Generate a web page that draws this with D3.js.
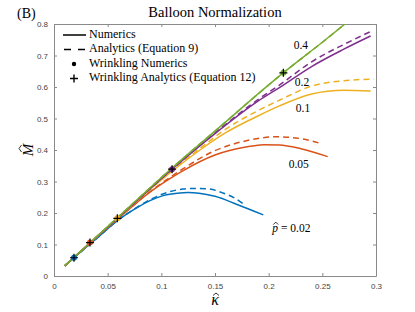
<!DOCTYPE html>
<html>
<head>
<meta charset="utf-8">
<script src="https://cdn.jsdelivr.net/npm/d3@7"></script>
<style>
  body { margin: 0; background: #fff; }
  svg text { font-family: "Liberation Serif", "DejaVu Serif", serif; }
  .tick text { font-family: "Liberation Sans", Arial, sans-serif; font-size: 8px; fill: #444; }
</style>
</head>
<body>
<svg id="chart"></svg>
<script>
// curves per p value, kappa on x and M on y
const pLabels = [' = 0.02', '0.05', '0.1', '0.2', '0.4'];
const colors = ['#0072BD', '#D95319', '#EDB120', '#7E2F8E', '#77AC30'];

const numK = [
  [0.01, 0.02, 0.04, 0.06, 0.075, 0.09, 0.1025, 0.115, 0.125, 0.135, 0.15, 0.17, 0.195],
  [0.01, 0.034, 0.06, 0.09, 0.105, 0.12, 0.15, 0.18, 0.195, 0.21, 0.23, 0.255],
  [0.01, 0.059, 0.1, 0.136, 0.16, 0.19, 0.21, 0.24, 0.27, 0.295],
  [0.01, 0.06, 0.11, 0.15, 0.19, 0.21, 0.24, 0.27, 0.295],
  [0.01, 0.06, 0.11, 0.15, 0.2144, 0.25, 0.274]
];
const numM = [
  [0.032, 0.062, 0.120, 0.178, 0.212, 0.240, 0.256, 0.263, 0.265, 0.263, 0.253, 0.228, 0.194],
  [0.032, 0.106, 0.183, 0.268, 0.303, 0.334, 0.384, 0.410, 0.417, 0.416, 0.404, 0.379],
  [0.032, 0.183, 0.305, 0.400, 0.455, 0.508, 0.540, 0.578, 0.590, 0.587],
  [0.032, 0.186, 0.339, 0.452, 0.555, 0.598, 0.665, 0.720, 0.762],
  [0.032, 0.188, 0.343, 0.460, 0.647, 0.742, 0.808]
];

const anaK = [
  [0.01, 0.02, 0.04, 0.06, 0.075, 0.09, 0.108, 0.12, 0.13, 0.145, 0.157, 0.168, 0.176],
  [0.01, 0.034, 0.06, 0.09, 0.105, 0.12, 0.15, 0.18, 0.195, 0.2075, 0.23, 0.25],
  [0.01, 0.059, 0.1, 0.136, 0.16, 0.19, 0.21, 0.24, 0.27, 0.298],
  [0.01, 0.06, 0.11, 0.15, 0.19, 0.21, 0.24, 0.27, 0.295],
  [0.01, 0.06, 0.11, 0.15, 0.2144, 0.25, 0.274]
];
const anaM = [
  [0.032, 0.062, 0.120, 0.178, 0.213, 0.243, 0.268, 0.276, 0.278, 0.276, 0.264, 0.248, 0.230],
  [0.032, 0.106, 0.183, 0.269, 0.306, 0.340, 0.398, 0.430, 0.439, 0.442, 0.436, 0.419],
  [0.032, 0.183, 0.306, 0.405, 0.466, 0.525, 0.558, 0.603, 0.620, 0.625],
  [0.032, 0.186, 0.339, 0.454, 0.560, 0.606, 0.680, 0.735, 0.776],
  [0.032, 0.188, 0.343, 0.460, 0.647, 0.742, 0.808]
];

// wrinkling onset points
const wrinkleK = [0.0186, 0.0335, 0.059, 0.110, 0.2137];
const wrinkleM = [0.058, 0.106, 0.183, 0.339, 0.645];

const xTicks = [0, 0.05, 0.1, 0.15, 0.2, 0.25, 0.3];
const yTicks = [0, 0.1, 0.2, 0.3, 0.4, 0.5, 0.6, 0.7, 0.8];

// where each p label sits, in data units
const labelK = [0.222, 0.228, 0.232, 0.231, 0.23];
const labelM = [0.152, 0.352, 0.528, 0.613, 0.73];

const W = 415, H = 312;
const margin = { top: 24, right: 39, bottom: 36, left: 54 };
const width = W - margin.left - margin.right;
const height = H - margin.top - margin.bottom;

const svg = d3.select('#chart').attr('width', W).attr('height', H);
const g = svg.append('g').attr('transform', `translate(${margin.left},${margin.top})`);

const x = d3.scaleLinear().domain([0, 0.3]).range([0, width]);
const y = d3.scaleLinear().domain([0, 0.8]).range([height, 0]);

svg.append('defs').append('clipPath').attr('id', 'clip')
  .append('rect').attr('width', width).attr('height', height);

const axisColor = '#8a8a8a';
const fmt = d => d === 0 ? '0' : String(d);

const xAxis = g.append('g').attr('transform', `translate(0,${height})`)
  .call(d3.axisBottom(x).tickValues(xTicks).tickFormat(fmt).tickSizeInner(-3).tickSizeOuter(0).tickPadding(7));
const xTop = g.append('g')
  .call(d3.axisTop(x).tickValues(xTicks).tickFormat('').tickSizeInner(-3).tickSizeOuter(0));
const yAxis = g.append('g')
  .call(d3.axisLeft(y).tickValues(yTicks).tickFormat(fmt).tickSizeInner(-3).tickSizeOuter(0).tickPadding(6));
const yRight = g.append('g').attr('transform', `translate(${width},0)`)
  .call(d3.axisRight(y).tickValues(yTicks).tickFormat('').tickSizeInner(-3).tickSizeOuter(0));
[xAxis, xTop, yAxis, yRight].forEach(a => {
  a.selectAll('path, line').attr('stroke', axisColor);
});

const line = d3.line().x(d => x(d[0])).y(d => y(d[1])).curve(d3.curveMonotoneX);
const plot = g.append('g').attr('clip-path', 'url(#clip)');

for (let i = 0; i < colors.length; i++) {
  plot.append('path')
    .datum(numK[i].map((k, j) => [k, numM[i][j]]))
    .attr('d', line)
    .attr('fill', 'none')
    .attr('stroke', colors[i])
    .attr('stroke-width', 1.5);
  plot.append('path')
    .datum(anaK[i].map((k, j) => [k, anaM[i][j]]))
    .attr('d', line)
    .attr('fill', 'none')
    .attr('stroke', colors[i])
    .attr('stroke-width', 1.5)
    .attr('stroke-dasharray', '6,4');
}

// wrinkling markers: coloured dot with black cross
for (let i = 0; i < wrinkleK.length; i++) {
  const cx = x(wrinkleK[i]), cy = y(wrinkleM[i]);
  plot.append('circle').attr('cx', cx).attr('cy', cy).attr('r', 3).attr('fill', colors[i]);
  plot.append('path')
    .attr('d', `M${cx - 4},${cy}H${cx + 4}M${cx},${cy - 4}V${cy + 4}`)
    .attr('stroke', '#000').attr('stroke-width', 1.2);
}

// small hat drawn as a chevron, centred at (hx, hy)
function hat(parent, hx, hy, w) {
  parent.append('path')
    .attr('d', `M${hx - w / 2},${hy + 1.5}L${hx},${hy - 1}L${hx + w / 2},${hy + 1.5}`)
    .attr('fill', 'none').attr('stroke', '#000').attr('stroke-width', 0.8);
}

// p labels
g.selectAll('.plabel')
  .data(pLabels.slice(1))
  .join('text')
  .attr('class', 'plabel')
  .attr('x', (d, i) => x(labelK[i + 1]))
  .attr('y', (d, i) => y(labelM[i + 1]))
  .attr('text-anchor', 'middle')
  .attr('dominant-baseline', 'middle')
  .style('font-size', '11.5px')
  .text(d => d);
const p0 = g.append('text')
  .attr('x', x(labelK[0]) - 20).attr('y', y(labelM[0]) + 4)
  .style('font-size', '11.5px');
p0.append('tspan').style('font-style', 'italic').text('p');
p0.append('tspan').text(pLabels[0]);
hat(g, x(labelK[0]) - 16.5, y(labelM[0]) - 5, 5);

// legend
const legendItems = ['Numerics', 'Analytics (Equation 9)', 'Wrinkling Numerics', 'Wrinkling Analytics (Equation 12)'];
const leg = g.append('g').attr('transform', 'translate(9,11)');
legendItems.forEach((t, i) => {
  const ly = i * 14.5;
  if (i === 0) {
    leg.append('line').attr('x1', 0).attr('x2', 23).attr('y1', ly).attr('y2', ly)
      .attr('stroke', '#000').attr('stroke-width', 1.5);
  } else if (i === 1) {
    leg.append('line').attr('x1', 1).attr('x2', 23).attr('y1', ly).attr('y2', ly)
      .attr('stroke', '#000').attr('stroke-width', 1.5).attr('stroke-dasharray', '7,7');
  } else if (i === 2) {
    leg.append('circle').attr('cx', 11).attr('cy', ly).attr('r', 2.2).attr('fill', '#000');
  } else {
    leg.append('path').attr('d', `M${7},${ly}H${15}M${11},${ly - 4}V${ly + 4}`)
      .attr('stroke', '#000').attr('stroke-width', 1.4);
  }
  leg.append('text').attr('x', 26).attr('y', ly).attr('dominant-baseline', 'middle')
    .style('font-size', '12px').text(t);
});

// title and axis labels
svg.append('text').attr('x', margin.left + width / 2).attr('y', 17).attr('text-anchor', 'middle')
  .style('font-size', '14.5px').text('Balloon Normalization');
svg.append('text').attr('x', 17).attr('y', 18).style('font-size', '14px').text('(B)');

const kx = margin.left + width / 2, ky = 305;
svg.append('text').attr('x', kx).attr('y', ky).attr('text-anchor', 'middle')
  .style('font-size', '16px').style('font-style', 'italic').text('\u03BA');
hat(svg, kx + 1, ky - 11, 6);

const yl = svg.append('g').attr('transform', `translate(33,${margin.top + height / 2}) rotate(-90)`);
yl.append('text').attr('text-anchor', 'middle')
  .style('font-size', '15px').style('font-style', 'italic').text('M');
hat(yl, 1.5, -13, 7);
</script>
</body>
</html>
